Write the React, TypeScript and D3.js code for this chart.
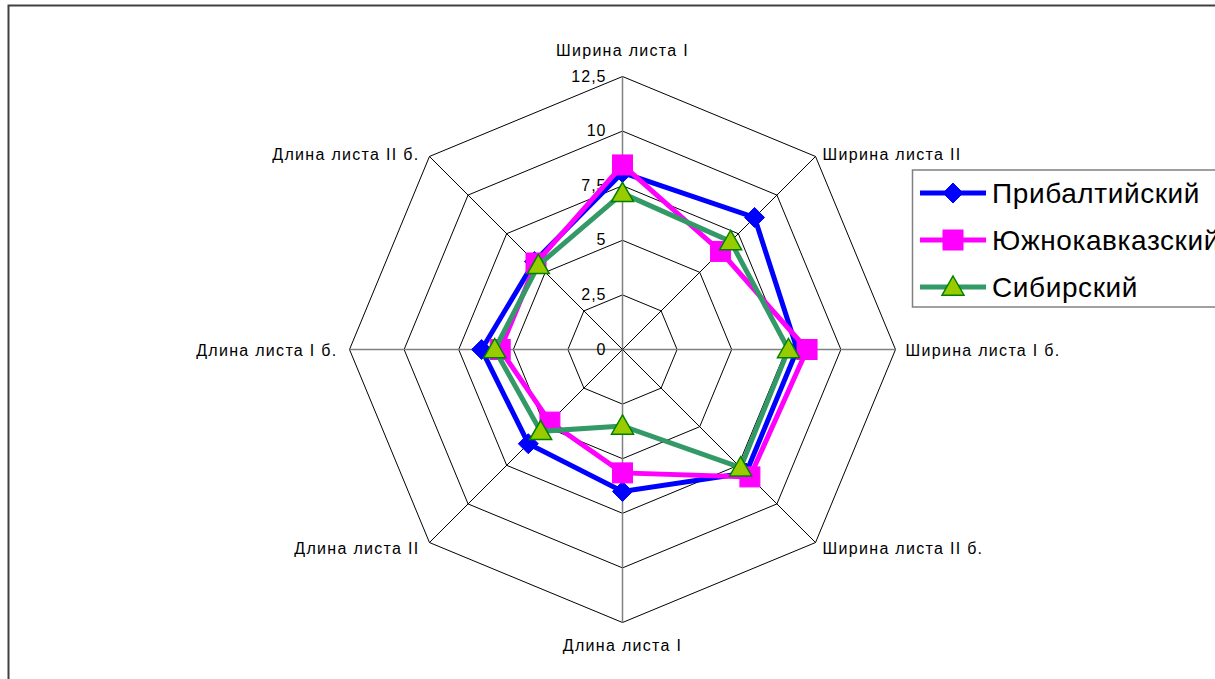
import React from "react";
import * as d3 from "d3";

const categories = [
  "Ширина листа I",
  "Ширина листа II",
  "Ширина листа I б.",
  "Ширина листа II б.",
  "Длина листа I",
  "Длина листа II",
  "Длина листа I б.",
  "Длина листа II б.",
];
const seriesNames = ["Прибалтийский", "Южнокавказский", "Сибирский"];
const baltic = [8.1, 8.55, 8.0, 8.0, 6.5, 6.1, 6.45, 5.7];
const caucasus = [8.45, 6.35, 8.45, 8.25, 5.65, 4.7, 5.6, 5.6];
const siberia = [7.15, 7.0, 7.6, 7.65, 3.5, 5.3, 5.85, 5.45];
const tickValues = [0, 2.5, 5, 7.5, 10, 12.5];
const tickLabels = ["0", "2,5", "5", "7,5", "10", "12,5"];

const W = 1215;
const H = 679;
const cx = 622.5;
const cy = 349.5;
const R = 273;
const FONT = "'Liberation Sans', Arial, sans-serif";

const r = d3.scaleLinear().domain([0, 12.5]).range([0, R]);
const angle = d3
  .scaleLinear()
  .domain([0, categories.length])
  .range([0, 2 * Math.PI]);

const pt = (i: number, v: number): [number, number] => {
  const a = angle(i);
  return [cx + r(v) * Math.sin(a), cy - r(v) * Math.cos(a)];
};

const styles = [
  { line: "#0000FF", fill: "#0000FF", stroke: "#0000FF", shape: "diamond" },
  { line: "#FF00FF", fill: "#FF00FF", stroke: "#FF00FF", shape: "square" },
  { line: "#339966", fill: "#99CC00", stroke: "#008000", shape: "triangle" },
];
const data = [baltic, caucasus, siberia];

function Marker({ x, y, shape, fill, stroke }: any) {
  if (shape === "diamond") {
    const s = 10;
    return (
      <path
        d={`M${x},${y - s}L${x + s},${y}L${x},${y + s}L${x - s},${y}Z`}
        fill={fill}
        stroke={stroke}
        strokeWidth={1}
      />
    );
  }
  if (shape === "square") {
    const s = 10;
    return <rect x={x - s} y={y - s} width={2 * s} height={2 * s} fill={fill} stroke={stroke} strokeWidth={1} />;
  }
  const s = 11;
  return (
    <path
      d={`M${x},${y - s}L${x + s},${y + s * 0.75}L${x - s},${y + s * 0.75}Z`}
      fill={fill}
      stroke={stroke}
      strokeWidth={1.5}
      strokeLinejoin="miter"
    />
  );
}

export default function App() {
  const gridLevels = tickValues.slice(1);
  const line = d3
    .line<number>()
    .x((v, i) => pt(i, v)[0])
    .y((v, i) => pt(i, v)[1])
    .curve(d3.curveLinearClosed);

  const labelPos = categories.map((c, i) => {
    const a = angle(i);
    const [vx, vy] = pt(i, 12.5);
    const s = Math.sin(a);
    const co = Math.cos(a);
    let anchor = "middle";
    if (s > 0.01) anchor = "start";
    else if (s < -0.01) anchor = "end";
    let x = vx + s * 10;
    if (co > -0.9 && co < 0.9 && s < 0) x = vx - 10;
    if (Math.abs(co) < 0.1 && s < 0) x = vx - 12;
    let y = vy + 6;
    if (co > 0.99) y = vy - 21;
    else if (co < -0.99) y = vy + 28;
    else if (co > 0.5) y = vy + 4;
    else if (co < -0.5) y = vy + 11;
    return { c, x, y, anchor };
  });

  return (
    <svg
      width={W}
      height={H}
      style={{ position: "absolute", left: 0, top: 0, background: "#fff" }}
      fontFamily={FONT}
    >
      <rect x={0} y={0} width={W} height={H} fill="#fff" />
      <rect x={8.5} y={5.5} width={W + 20} height={H + 20} fill="none" stroke="#404040" strokeWidth={2} />

      {gridLevels.map((lv) => (
        <polygon
          key={lv}
          points={categories.map((_, i) => pt(i, lv).join(",")).join(" ")}
          fill="none"
          stroke="#000"
          strokeWidth={1}
        />
      ))}
      {categories.map((_, i) => {
        const [x, y] = pt(i, 12.5);
        const main = i % 2 === 0;
        return (
          <line
            key={i}
            x1={cx}
            y1={cy}
            x2={x}
            y2={y}
            stroke={main ? "#808080" : "#000"}
            strokeWidth={main ? 1.5 : 1}
          />
        );
      })}

      {tickValues.map((t, i) => (
        <text
          key={t}
          x={cx - 16}
          y={cy - r(t) + 5}
          textAnchor="end"
          fontSize={16}
          letterSpacing={1}
          fill="#000"
        >
          {tickLabels[i]}
        </text>
      ))}

      {labelPos.map((l) => (
        <text
          key={l.c}
          x={l.x}
          y={l.y}
          textAnchor={l.anchor as any}
          fontSize={16}
          letterSpacing={1.3}
          fill="#000"
        >
          {l.c}
        </text>
      ))}

      {data.map((vals, si) => (
        <g key={si}>
          <path d={line(vals) || ""} fill="none" stroke={styles[si].line} strokeWidth={5} strokeLinejoin="miter" />
          {vals.map((v, i) => {
            const [x, y] = pt(i, v);
            return <Marker key={i} x={x} y={y} {...styles[si]} />;
          })}
        </g>
      ))}

      <g>
        <rect x={912.5} y={170} width={400} height={137} fill="#fff" stroke="#808080" strokeWidth={1.5} />
        {seriesNames.map((n, i) => {
          const yy = 193 + i * 47;
          return (
            <g key={n}>
              <line x1={920} y1={yy} x2={986} y2={yy} stroke={styles[i].line} strokeWidth={5} />
              <Marker x={953} y={yy} {...styles[i]} />
              <text x={992} y={yy + 10} fontSize={28} letterSpacing={0.6} fill="#000">
                {n}
              </text>
            </g>
          );
        })}
      </g>
    </svg>
  );
}
